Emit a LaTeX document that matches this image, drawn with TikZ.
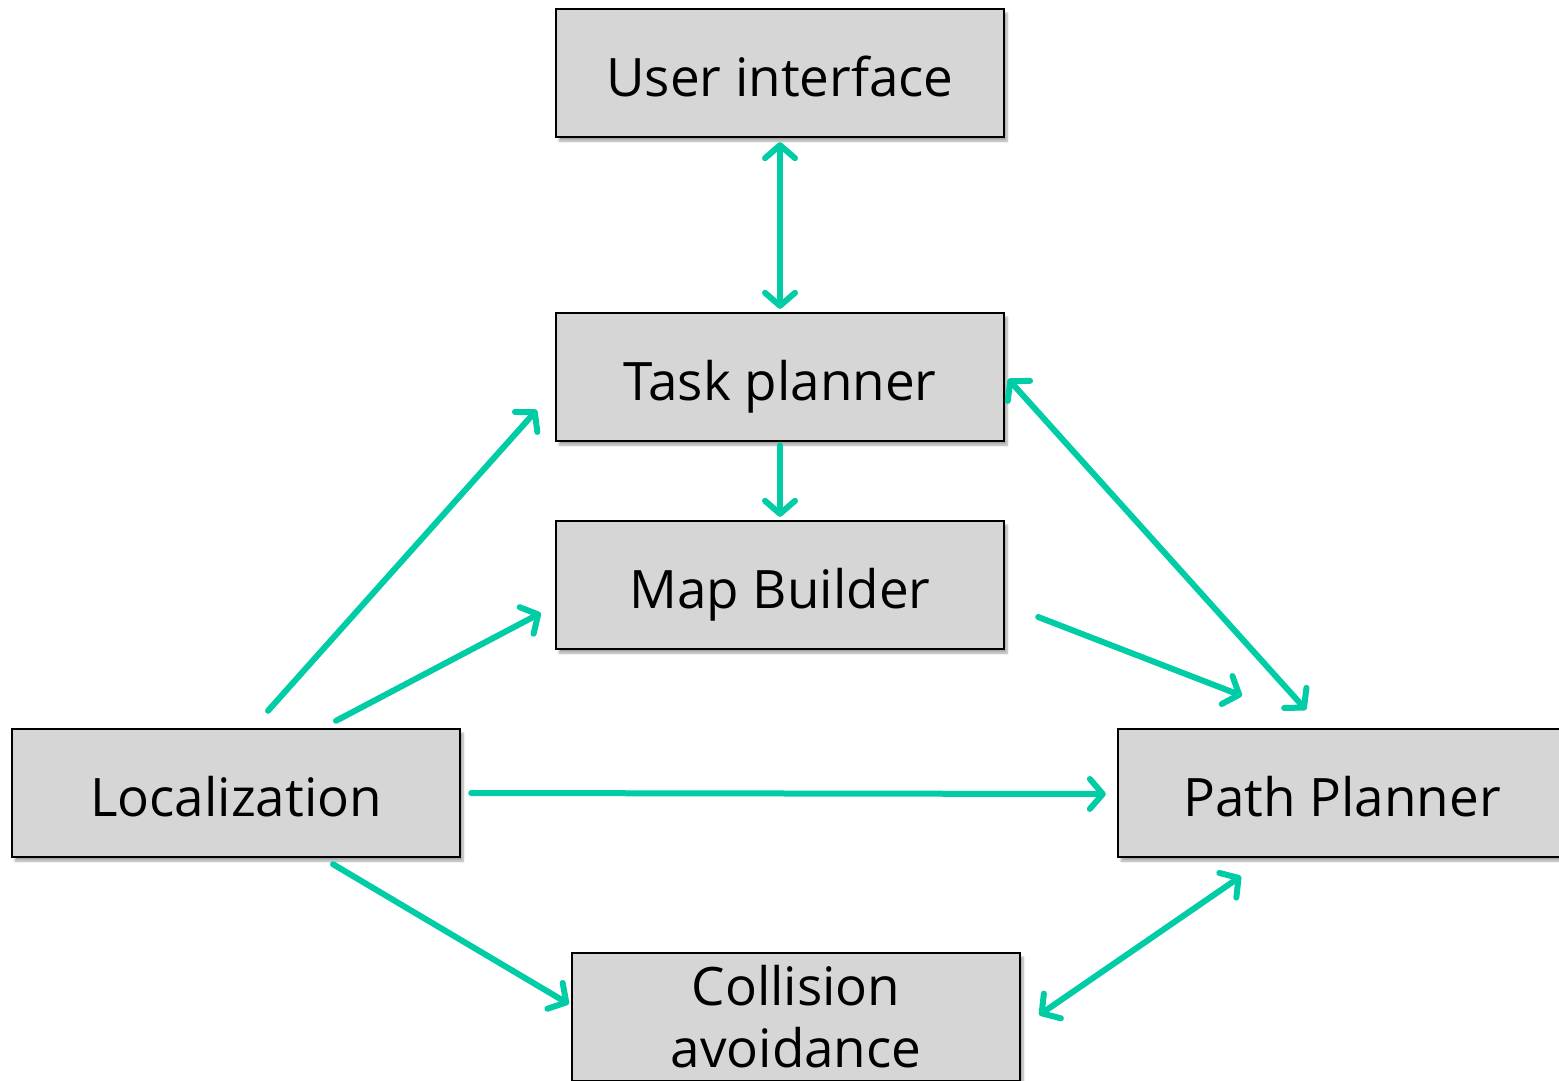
\documentclass[tikz,border=0pt]{standalone}
\usepackage{fontspec}
\setmainfont{Open Sans}
\usetikzlibrary{arrows.meta,shadows.blur,calc}
\definecolor{boxgray}{RGB}{214,214,214}
\definecolor{teal}{RGB}{0,205,165}
\tikzset{
  box/.style={draw=black, line width=2.4pt, fill=boxgray,
    minimum width=448pt, minimum height=128pt, inner sep=0pt,
    font=\fontsize{53}{62}\selectfont, align=center,
    blur shadow={shadow xshift=3pt, shadow yshift=-4pt, shadow blur steps=6, shadow opacity=35}},
  onelabel/.style={text height=47pt, text depth=0pt},
  tip/.style={Straight Barb[length=13pt, width=30pt, round]},
  link/.style={draw=teal, line width=6pt, line cap=round, -{Straight Barb[length=13pt, width=30pt, round]}},
  biglink/.style={link, {Straight Barb[length=13pt, width=30pt, round]}-{Straight Barb[length=13pt, width=30pt, round]}}
}
\begin{document}
\begin{tikzpicture}[x=1pt, y=-1pt]
  \useasboundingbox (0,0) rectangle (1559,1081);
  \clip (0,0) rectangle (1559,1081);

  % module boxes
  \node[box, onelabel] (ui)  at (780,73)   {User interface};
  \node[box, onelabel] (tp)  at (780,377)  {Task planner};
  \node[box, onelabel] (mb)  at (780,585)  {Map Builder};
  \node[box, onelabel] (loc) at (236,793)  {Localization};
  \node[box, onelabel] (pp)  at (1342,793) {Path Planner};
  \node[box] (ca)  at (796,1017) {Collision\\avoidance};

  % data flow between modules
  \draw[biglink] ($(ui.south)+(0,4)$) -- ($(tp.north)+(0,-3)$);
  \draw[link] ($(tp.south)+(0,3)$) -- ($(mb.north)+(0,-3)$);
  \draw[link] ($(loc.north)+(32,-17)$) -- ($(tp.west)+(-18,33)$);
  \draw[link] ($(loc.north)+(100,-7)$) -- ($(mb.west)+(-14,28)$);
  \draw[link] ($(mb.east)+(33,32)$) -- ($(pp.north)+(-100,-32)$);
  \draw[biglink] ($(tp.east)+(3,2)$) -- ($(pp.north)+(-36,-18)$);
  \draw[link] ($(loc.east)+(10,0)$) -- ($(pp.west)+(-11,1)$);
  \draw[link] ($(loc.south)+(97,6)$) -- ($(ca.west)+(-2,-13)$);
  \draw[biglink] ($(pp.south)+(-101,18)$) -- ($(ca.east)+(18,-2)$);
\end{tikzpicture}
\end{document}
